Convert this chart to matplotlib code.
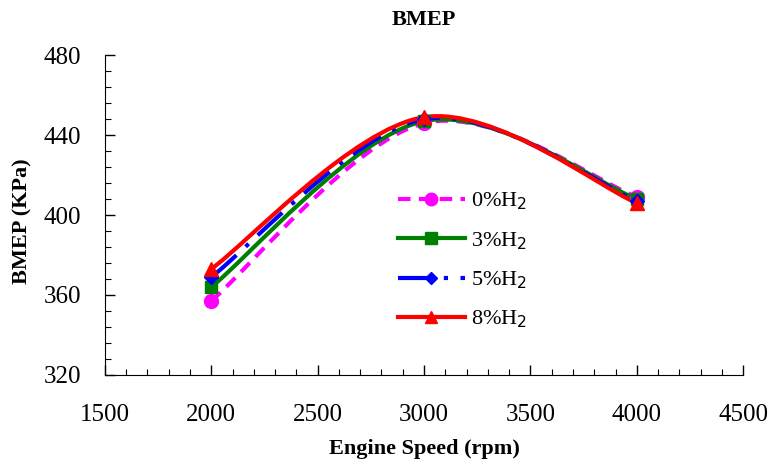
import numpy as np
import matplotlib.pyplot as plt
from matplotlib.path import Path
from matplotlib.patches import PathPatch
from matplotlib.lines import Line2D
from matplotlib.ticker import MultipleLocator

plt.rcParams['font.family'] = ['Liberation Serif', 'DejaVu Serif']

# Données
vitesse = [2000, 3000, 4000]
bmep_0 = [357, 446, 409]
bmep_3 = [364, 447, 408]
bmep_5 = [369, 448, 407]
bmep_8 = [373, 449, 406]
labels = ['0%H$_2$', '3%H$_2$', '5%H$_2$', '8%H$_2$']


def chemin_lisse(x, y):
    """Courbe lissée façon Excel (Bézier cubiques)."""
    p = np.column_stack([x, y]).astype(float)
    n = len(p)
    verts = [p[0]]
    codes = [Path.MOVETO]
    for i in range(n - 1):
        p0 = p[max(i - 1, 0)]
        p1 = p[i]
        p2 = p[i + 1]
        p3 = p[min(i + 2, n - 1)]
        c1 = p1 + (p2 - p0) / 6
        c2 = p2 - (p3 - p1) / 6
        verts += [c1, c2, p2]
        codes += [Path.CURVE4] * 3
    return Path(verts, codes)


fig = plt.figure(figsize=(7.71, 4.68), dpi=100)
ax = fig.add_axes([0.136, 0.199, 0.828, 0.683])

series = [
    (bmep_0, '#ff00ff', (0, (3, 2)), 'o', 10),
    (bmep_3, '#008000', '-', 's', 9),
    (bmep_5, '#0000ff', (0, (8, 3, 1, 3)), 'D', 7),
    (bmep_8, '#ff0000', '-', '^', 10),
]
handles = []
for (vals, c, ls, mk, ms), lab in zip(series, labels):
    patch = PathPatch(chemin_lisse(vitesse, vals), facecolor='none', edgecolor=c,
                      linestyle=ls, linewidth=3, zorder=2)
    ax.add_patch(patch)
    ax.plot(vitesse, vals, linestyle='none', marker=mk, color=c, markersize=ms, zorder=3)
    handles.append(Line2D([], [], color=c, linestyle=ls, linewidth=3, marker=mk,
                          markersize=ms - 1, label=lab))

ax.set_xlim(1500, 4500)
ax.set_ylim(320, 480)
ax.xaxis.set_major_locator(MultipleLocator(500))
ax.xaxis.set_minor_locator(MultipleLocator(100))
ax.yaxis.set_major_locator(MultipleLocator(40))
ax.yaxis.set_minor_locator(MultipleLocator(8))
ax.tick_params(which='both', direction='in', top=False, right=False, labelsize=18)
ax.tick_params(which='major', length=7, width=1)
ax.tick_params(which='minor', length=4, width=0.8)
ax.tick_params(axis='y', which='major', pad=17)
ax.tick_params(axis='x', which='major', pad=21)
ax.spines['top'].set_visible(False)
ax.spines['right'].set_visible(False)

ax.set_title('BMEP', fontsize=16, fontweight='bold', pad=22)
ax.set_xlabel('Engine Speed (rpm)', fontsize=16, fontweight='bold', labelpad=9)
ax.set_ylabel('BMEP (KPa)', fontsize=16, fontweight='bold')
ax.yaxis.set_label_coords(-0.113, 0.48)

ax.legend(handles=handles, loc='upper left', bbox_to_anchor=(0.435, 0.625), frameon=False,
          fontsize=16, handlelength=3.0, labelspacing=0.8, handletextpad=0.3,
          borderpad=0.2)

fig.savefig('out.png', dpi=100)
